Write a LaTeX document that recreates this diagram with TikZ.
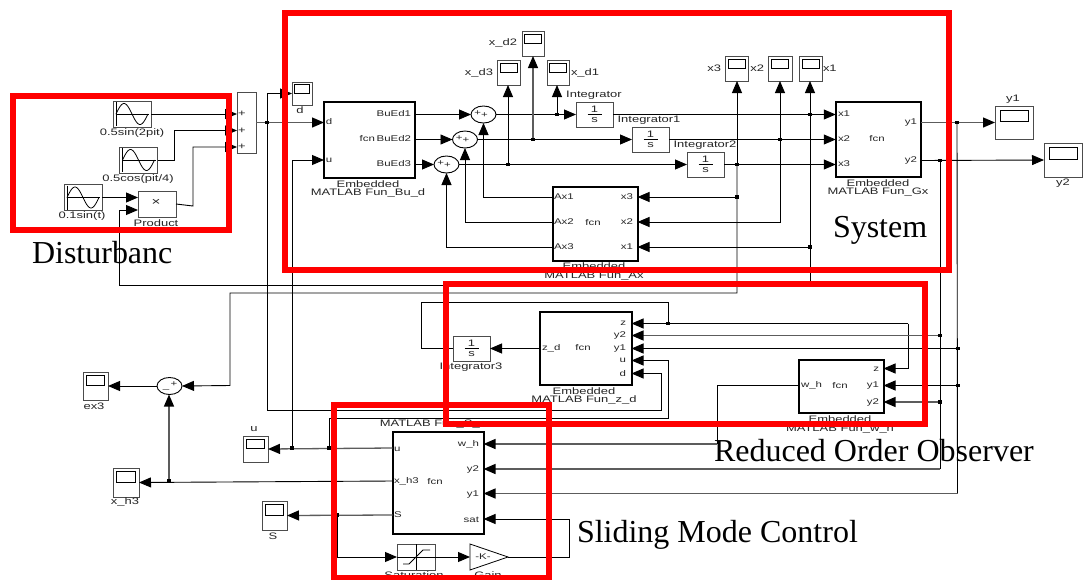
\documentclass[tikz,border=0pt]{standalone}
\usepackage{fontspec}
\setmainfont{Liberation Serif}
\newfontfamily\labf[FakeStretch=1.38]{Liberation Sans}
\usetikzlibrary{arrows.meta,calc,shapes.geometric}
\definecolor{wiregray}{gray}{0.36}
\definecolor{boxgray}{gray}{0.3}
\tikzset{
  wire/.style={draw=black,line width=0.9pt},
  gwire/.style={draw=wiregray,line width=1.3pt},
  tip/.style={-{Triangle[length=12pt,width=10pt,color=black,fill=black]}},
  dot/.style={rectangle,fill=black,inner sep=0pt,minimum size=3.2pt},
  txt/.style={inner sep=0pt,outer sep=0pt,font=\labf\fontsize{9.4}{10}\selectfont,text=black!85},
  ptxt/.style={inner sep=0pt,outer sep=0pt,font=\labf\fontsize{8.3}{9}\selectfont,text=black!85},
  bx/.style={draw=boxgray,line width=1pt,inner sep=0pt,outer sep=0pt},
  fn/.style={draw=black,line width=2pt,inner sep=0pt,outer sep=0pt},
  sumn/.style={ellipse,draw=black,line width=0.9pt,inner sep=0pt,outer sep=0pt,minimum width=25,minimum height=17},
  redbox/.style={draw=red,line width=6pt,inner sep=0pt,outer sep=0pt},
  big/.style={inner sep=0pt,outer sep=0pt,anchor=base west,font=\fontsize{32}{34}\selectfont,text=black}
}
% name, cx, cy, w, h
\newcommand\scp[5]{%
  \node[bx,minimum width=#4,minimum height=#5] (#1) at (#2,#3) {};
  \draw[black,line width=0.8pt] ($(#1.center)+(-.37*#4,-.38*#5)$) rectangle ($(#1.center)+(.37*#4,-.02*#5)$);
}
% name, cx, cy
\newcommand\sinebk[3]{%
  \node[bx,minimum width=38,minimum height=26] (#1) at (#2,#3) {};
  \begin{scope}[shift={(#2,#3)}]
    \draw[black,line width=0.7pt] (-16,-12) -- (-16,12);
    \draw[black,line width=0.5pt] (-16.5,0) -- (17,0);
    \draw[black,line width=0.8pt,domain=-16:16,samples=40,smooth] plot (\x,{-10.5*sin((\x+16)*11.25)});
  \end{scope}
}
\newcommand\intbk[3]{%
  \node[bx,minimum width=37,minimum height=25] (#1) at (#2,#3) {};
  \node[txt] at (#2,#3-5.5) {1};
  \draw[black,line width=0.7pt] (#2-7,#3) -- (#2+7,#3);
  \node[txt] at (#2,#3+6) {s};
}
\begin{document}
\begin{tikzpicture}[x=1pt,y=-1pt]
\useasboundingbox (0,0) rectangle (1085,579);
\fill[white] (0,0) rectangle (1085,579);

% ---------- source blocks
\sinebk{sa}{132}{114}
\node[txt] at (132,133) {0.5sin(2pit)};
\sinebk{sb}{138.5}{160}
\node[txt] at (138,179) {0.5cos(pit/4)};
\sinebk{sc}{83}{197.5}
\node[txt] at (82,216) {0.1sin(t)};
\node[bx,minimum width=38,minimum height=26] (prod) at (157,204) {};
\node[txt,font=\labf\fontsize{11}{11}\selectfont] at (156,202.5) {×};
\node[txt] at (156,223) {Product};
\node[bx,minimum width=19,minimum height=61] (mux) at (246.5,122.5) {};
\node[txt] at (242,114) {+};
\node[txt] at (242,130.5) {+};
\node[txt] at (242,147) {+};

% ---------- embedded function blocks
\node[fn,minimum width=91,minimum height=76] (bu) at (369.5,139.5) {};
\node[ptxt] at (329,122) {d};
\node[ptxt] at (329,160) {u};
\node[ptxt,anchor=east] at (411,114) {BuEd1};
\node[ptxt,anchor=east] at (411,139) {BuEd2};
\node[ptxt,anchor=east] at (375,139) {fcn};
\node[ptxt,anchor=east] at (411,164) {BuEd3};
\node[txt] at (368,184) {Embedded};
\node[txt] at (368,193.5) {MATLAB Fun\_Bu\_d};

\node[fn,minimum width=85,minimum height=74] (ax) at (595,223.5) {};
\node[ptxt,anchor=west] at (554,197) {Ax1};
\node[ptxt,anchor=west] at (554,222) {Ax2};
\node[ptxt,anchor=west] at (554,247) {Ax3};
\node[ptxt,anchor=east] at (633,197) {x3};
\node[ptxt,anchor=east] at (633,222) {x2};
\node[ptxt,anchor=east] at (633,247) {x1};
\node[ptxt] at (593,223) {fcn};
\node[txt] at (594,266.5) {Embedded};
\node[txt] at (594,276) {MATLAB Fun\_Ax};

\node[fn,minimum width=85.5,minimum height=75] (gx) at (878.5,139.5) {};
\node[ptxt,anchor=west] at (838,114) {x1};
\node[ptxt,anchor=west] at (838,139) {x2};
\node[ptxt,anchor=west] at (838,164) {x3};
\node[ptxt,anchor=east] at (917,122.5) {y1};
\node[ptxt,anchor=east] at (917,160.5) {y2};
\node[ptxt] at (877,139) {fcn};
\node[txt] at (878,183) {Embedded};
\node[txt] at (878,192) {MATLAB Fun\_Gx};

\node[fn,minimum width=92,minimum height=73] (zd) at (585.5,348.5) {};
\node[ptxt,anchor=west] at (542,348) {z\_d};
\node[ptxt] at (583,348) {fcn};
\node[ptxt,anchor=east] at (626,323.5) {z};
\node[ptxt,anchor=east] at (626,335.5) {y2};
\node[ptxt,anchor=east] at (626,348.5) {y1};
\node[ptxt,anchor=east] at (626,360.5) {u};
\node[ptxt,anchor=east] at (626,373.5) {d};
\node[txt] at (584,391) {Embedded};
\node[txt] at (584,400) {MATLAB Fun\_z\_d};

\node[fn,minimum width=85,minimum height=53] (wh) at (841,386) {};
\node[ptxt,anchor=west] at (801,385.5) {w\_h};
\node[ptxt] at (840,386) {fcn};
\node[ptxt,anchor=east] at (879,369.5) {z};
\node[ptxt,anchor=east] at (879,385.5) {y1};
\node[ptxt,anchor=east] at (879,402.5) {y2};
\node[txt] at (840,419) {Embedded};
\node[txt] at (840,429) {MATLAB Fun\_w\_h};

\node[fn,minimum width=91,minimum height=102] (smc) at (438,482.5) {};
\node[ptxt,anchor=west] at (394,449) {u};
\node[ptxt,anchor=west] at (394,481.5) {x\_h3};
\node[ptxt,anchor=west] at (394,515) {S};
\node[ptxt,anchor=east] at (479,444.5) {w\_h};
\node[ptxt,anchor=east] at (479,469.5) {y2};
\node[ptxt,anchor=east] at (479,494.5) {y1};
\node[ptxt,anchor=east] at (479,519.5) {sat};
\node[ptxt] at (435,482) {fcn};
\node[txt] at (433,424) {MATLAB Fun\_S\_c};

% ---------- sums
\node[sumn] (s1) at (483.5,114.5) {};
\node[ptxt] at (481,114) {+\raisebox{-2pt}{+}};
\node[sumn] (s2) at (465,139.5) {};
\node[ptxt] at (462.5,139) {+\raisebox{-2pt}{+}};
\node[sumn] (s3) at (446.5,164.5) {};
\node[ptxt] at (444,164) {+\raisebox{-2pt}{+}};
\node[sumn] (se) at (169.5,386) {};
\node[ptxt] at (170,386) {\raisebox{-2pt}{\_}\,+};

% ---------- integrators
\intbk{ia}{594.5}{114.5}
\node[txt] at (594,95) {Integrator};
\intbk{ib}{650.5}{139.5}
\node[txt] at (649,120) {Integrator1};
\intbk{ic}{705.5}{164.5}
\node[txt] at (705,145) {Integrator2};
\intbk{id}{471.5}{348.5}
\node[txt] at (471,367) {Integrator3};

% ---------- saturation and gain
\node[bx,minimum width=38,minimum height=26] (sat) at (416,557) {};
\draw[black,line width=0.7pt] (416,544) -- (416,570) (397,557) -- (435,557);
\draw[black,line width=0.8pt] (403,564) -- (409,564) -- (423,550) -- (430,550);
\node[txt] at (414,575) {Saturation};
\coordinate (gainw) at (470,557);
\coordinate (gaine) at (508,557);
\draw[black,line width=0.8pt] (470,544) -- (gaine) -- (470,570) -- cycle;
\node[ptxt] at (483,557) {-K-};
\node[txt] at (488,575) {Gain};

% ---------- scopes
\scp{sd}{302}{93.5}{20}{23}
\node[txt] at (300,110) {d};
\scp{xdb}{533}{43.5}{22}{25}
\node[txt,anchor=east] at (517,43) {x\_d2};
\scp{xdc}{508.5}{72.5}{23}{25}
\node[txt,anchor=east] at (493,73) {x\_d3};
\scp{xda}{558}{72.5}{22}{25}
\node[txt,anchor=west] at (571,73) {x\_d1};
\scp{xc}{736.5}{68.5}{23}{25}
\node[txt,anchor=east] at (721,68) {x3};
\scp{xb}{780}{68.5}{24}{25}
\node[txt,anchor=east] at (764,68) {x2};
\scp{xa}{810.5}{68.5}{23}{25}
\node[txt,anchor=west] at (823,68) {x1};
\scp{ya}{1014}{122.5}{38}{33}
\node[txt] at (1013,99) {y1};
\scp{yb}{1063}{160}{38}{34}
\node[txt] at (1063,183) {y2};
\scp{sex}{95.5}{386}{25}{28}
\node[txt] at (94,406) {ex3};
\scp{sxh}{126}{482.5}{26}{29}
\node[txt] at (125,502) {x\_h3};
\scp{su}{255.5}{449}{25}{26}
\node[txt] at (254,429.5) {u};
\scp{ss}{274.5}{515.5}{25}{29}
\node[txt] at (273,536) {S};

% ---------- named junctions and bends
\coordinate (jxda) at (557,114.5);
\coordinate (jxdb) at (533,139.5);
\coordinate (jxdc) at (508,164.5);
\coordinate (jxa) at (810,114.5);
\coordinate (jxb) at (780,139.5);
\coordinate (jxc) at (737,164.5);
\coordinate (jxcax) at (737,197);
\coordinate (jxaax) at (810,247);
\coordinate (jd) at (267,122.5);
\coordinate (ju) at (292,448);
\coordinate (juz) at (329,448);
\coordinate (jy) at (957,122.5);
\coordinate (jyb) at (940,160.5);
\coordinate (jzz) at (668,323.5);
\coordinate (jhex) at (169,481);
\coordinate (jS) at (337,515);
\coordinate (jy2z) at (940,335.5);
\coordinate (jy1z) at (958,348.5);
\coordinate (jy1w) at (958,385.5);
\coordinate (jy2w) at (940,402);

% ---------- wires: sources
\draw[wire,tip] (sa.east) -- (sa.east -| mux.west);
\draw[wire,tip] (sb.east) -- (174,160) -- (174,130.5) -- (0,130.5 -| mux.west);
\draw[wire,tip] (prod.east) -- (193,206) -- (193,147) -- (0,147 -| mux.west);
\draw[wire,tip] (sc.east) -- (138,197.5);
\draw[wire,tip] (jxa) -- (810,285) -- (119,285) -- (119,210) -- (138,210);

% ---------- wires: top
\draw[gwire,tip] (mux.east) -- (0,122.5 -| bu.west);
\draw[wire,tip] (jd) |- (sd.west);
\draw[wire,tip] (jd) -- (267,410) -- (661,410) -- (661,373.5) -- (0,373.5 -| zd.east);
\draw[wire,tip] (0,114.5 -| bu.east) -- (s1.west);
\draw[wire,tip] (0,139.5 -| bu.east) -- (s2.west);
\draw[wire,tip] (0,164.5 -| bu.east) -- (s3.west);
\draw[wire,tip] (s1.east) -- (ia.west);
\draw[wire,tip] (s2.east) -- (ib.west);
\draw[wire,tip] (s3.east) -- (ic.west);
\draw[wire,tip] (jxda) -- (xda.south -| jxda);
\draw[gwire,tip] (jxdb) -- (xdb.south);
\draw[wire,tip] (jxdc) -- (xdc.south -| jxdc);
\draw[wire,tip] (ia.east) -- (0,114.5 -| gx.west);
\draw[wire,tip] (ib.east) -- (0,139.5 -| gx.west);
\draw[wire,tip] (ic.east) -- (0,164.5 -| gx.west);
\draw[wire,tip] (jxa) -- (xa.south -| jxa);
\draw[wire,tip] (jxb) -- (xb.south -| jxb);
\draw[wire,tip] (jxc) -- (xc.south -| jxc);
\draw[wire,tip] (jxb) |- (0,222 -| ax.east);
\draw[wire,tip] (jxcax) -- (0,197 -| ax.east);
\draw[wire,tip] (jxaax) -- (0,247 -| ax.east);
\draw[wire,tip] (0,197 -| ax.west) -| (s1.south);
\draw[wire,tip] (0,222 -| ax.west) -| (s2.south);
\draw[wire,tip] (0,247 -| ax.west) -| (s3.south);
\draw[gwire,tip] (0,122.5 -| gx.east) -- (ya.west);
\draw[wire,tip] (0,160.5 -| gx.east) -- (yb.west);

% ---------- wires: feedback
\draw[wire,tip] (jxc) -- (737,293) -- (230,293) -- (230,385.5) -- (se.east);
\draw[wire,tip] (se.west) -- (sex.east);
\draw[wire,tip] (0,481 -| smc.west) -- (sxh.east);
\draw[gwire,tip] (jhex) -- (se.south -| jhex);
\draw[gwire,tip] (0,448 -| smc.west) -- (su.east);
\draw[wire,tip] (ju) |- (0,160 -| bu.west);
\draw[wire,tip] (juz) -- (329,418) -- (668,418) -- (668,360.5) -- (0,360.5 -| zd.east);
\draw[gwire,tip] (0,515 -| smc.west) -- (ss.east);
\draw[wire,tip] (jS) |- (sat.west);
\draw[wire,tip] (sat.east) -- (gainw);
\draw[wire,tip] (gaine) -- (569,557) -- (569,519) -- (0,519 -| smc.east);
\draw[wire,tip] (zd.west |- 0,348.5) -- (id.east);
\draw[wire] (id.west) -- (421,348.5) -- (421,302) -- (668,302) -- (jzz);
\draw[wire,tip] (908,323.5) -- (0,323.5 -| zd.east);
\draw[wire,tip] (908,323.5) -- (908,368.5) -- (0,368.5 -| wh.east);
\draw[gwire,tip] (jy2z) -- (0,335.5 -| zd.east);
\draw[wire,tip] (jy1z) -- (0,348.5 -| zd.east);
\draw[wire,tip] (jy1w) -- (0,385.5 -| wh.east);
\draw[gwire,tip] (jy2w) -- (0,402 -| wh.east);
\draw[wire] (0,385.5 -| wh.west) -- (717,385.5) -- (717,444);
\draw[gwire,tip] (717,444) -- (0,444 -| smc.east);
\draw[wire] (jyb) -- (940,469);
\draw[gwire,tip] (940,469) -- (0,469 -| smc.east);
\draw[wire] (jy) -- (957.5,493.5);
\draw[gwire,tip] (957.5,493.5) -- (0,493.5 -| smc.east);

% ---------- junction dots
\foreach \j in {jxda,jxdb,jxdc,jxa,jxb,jxc,jxcax,jxaax,jd,ju,juz,jy,jyb,jzz,jhex,jS,jy2z,jy1z,jy1w,jy2w}
  \node[dot] at (\j) {};

% ---------- red regions
\node[redbox,minimum width=216,minimum height=134] (rd) at (121,163) {};
\node[redbox,minimum width=664,minimum height=257] (rs) at (617,141.5) {};
\node[redbox,minimum width=479,minimum height=140] (ro) at (685.5,354) {};
\node[redbox,minimum width=215,minimum height=173] (rc) at (441.5,491.5) {};

% ---------- captions
\node[big] (c1) at (32,263) {Disturbanc};
\node[big] (c2) at (833,237) {System};
\node[big] (c3) at (714,461) {Reduced Order Observer};
\node[big] (c4) at (577,542) {Sliding Mode Control};
\end{tikzpicture}
\end{document}
